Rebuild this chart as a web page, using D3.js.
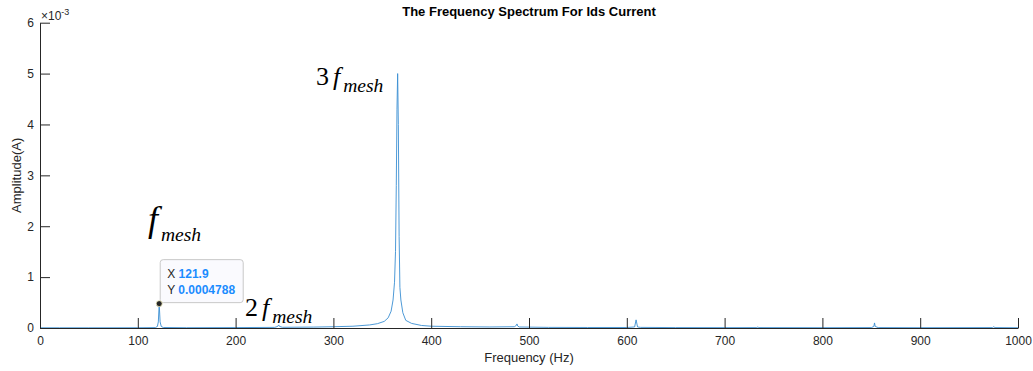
<!DOCTYPE html>
<html>
<head>
<meta charset="utf-8">
<script src="https://cdn.jsdelivr.net/npm/d3@7"></script>
<style>
  body { margin: 0; background: #fff; }
  svg { display: block; font-family: "Liberation Sans", Arial, sans-serif; }
  .axis path, .axis line { stroke: #262626; }
  .axis text { fill: #262626; font-size: 12px; }
  .anno { font-family: "Liberation Serif", "Times New Roman", serif; fill: #000; }
</style>
</head>
<body>
<svg id="chart" width="1033" height="371"></svg>
<script>
// spectrum samples (Hz) and amplitudes (A)
const freqs = [0, 20, 50, 100, 118, 120, 121, 121.9, 122.8, 124, 126, 150, 200, 240, 243, 244, 245, 248,
  280, 300, 320, 337, 345, 352, 356, 359, 361, 362.5, 363.5, 364.3, 365, 365.7, 366.4, 367.2, 368, 369,
  371, 374, 380, 390, 400, 430, 460, 485, 487, 487.7, 488.4, 490, 520, 560, 600, 608, 609.5, 611, 614,
  650, 700, 733, 734, 735, 800, 850, 852.6, 853.3, 854, 857, 900, 974, 975.2, 976.4, 1000];
const amps = [0.004, 0.004, 0.004, 0.005, 0.008, 0.03, 0.12, 0.4788, 0.12, 0.03, 0.01, 0.006, 0.008, 0.012, 0.03, 0.06, 0.03, 0.014,
  0.018, 0.025, 0.035, 0.06, 0.085, 0.13, 0.2, 0.33, 0.55, 0.9, 1.5, 2.8, 4.3, 5.0, 4.0, 1.8, 0.8, 0.55,
  0.3, 0.15, 0.09, 0.05, 0.035, 0.025, 0.02, 0.025, 0.05, 0.08, 0.04, 0.02, 0.012, 0.01, 0.01, 0.02, 0.16, 0.02, 0.012,
  0.008, 0.007, 0.008, 0.02, 0.008, 0.006, 0.008, 0.03, 0.1, 0.03, 0.008, 0.006, 0.008, 0.025, 0.008, 0.005].map(v => v * 1e-3);

const xTicks = [0, 100, 200, 300, 400, 500, 600, 700, 800, 900, 1000];
const yTicks = [0, 0.001, 0.002, 0.003, 0.004, 0.005, 0.006];

const tipPoint = { x: 121.9, y: 0.0004788 };

const svg = d3.select("#chart");
const mLeft = 40, mRight = 1018, mTop = 22.7, mBottom = 328;

const x = d3.scaleLinear().domain([0, 1000]).range([mLeft, mRight]);
const y = d3.scaleLinear().domain([0, 0.006]).range([mBottom, mTop]);

// title
svg.append("text")
    .attr("x", (mLeft + mRight) / 2).attr("y", 16)
    .attr("text-anchor", "middle")
    .style("font-weight", "bold").style("font-size", "13px").attr("fill", "#000")
    .text("The Frequency Spectrum For Ids Current");

// spectrum line
const data = freqs.map((f, i) => ({ f: f, a: amps[i] }));
svg.append("path")
    .datum(data)
    .attr("fill", "none")
    .attr("stroke", "#3a8fd2")
    .attr("stroke-width", 0.9)
    .attr("d", d3.line().x(d => x(d.f)).y(d => y(d.a)));

// axes, ticks pointing inwards like matlab
svg.append("g").attr("class", "axis")
    .attr("transform", `translate(0,${mBottom})`)
    .call(d3.axisBottom(x).tickValues(xTicks).tickSizeInner(-10).tickSizeOuter(0).tickPadding(8)
        .tickFormat(d3.format("d")));

svg.append("g").attr("class", "axis")
    .attr("transform", `translate(${mLeft},0)`)
    .call(d3.axisLeft(y).tickValues(yTicks).tickSizeInner(-10).tickSizeOuter(0).tickPadding(6)
        .tickFormat(d => Math.round(d * 1000)));

// exponent label
const expo = svg.append("text").attr("x", mLeft + 1).attr("y", 20).attr("fill", "#262626").style("font-size", "12px");
expo.append("tspan").text("\u00d710");
expo.append("tspan").attr("dy", -5).style("font-size", "9px").text("-3");

// axis labels
svg.append("text")
    .attr("x", (mLeft + mRight) / 2).attr("y", 362)
    .attr("text-anchor", "middle").attr("fill", "#262626").style("font-size", "13px")
    .text("Frequency (Hz)");
svg.append("text")
    .attr("transform", `translate(21,${(mTop + mBottom) / 2}) rotate(-90)`)
    .attr("text-anchor", "middle").attr("fill", "#262626").style("font-size", "13px")
    .text("Amplitude(A)");

// data tip
const px = x(tipPoint.x), py = y(tipPoint.y);
const tip = svg.append("g").attr("transform", `translate(${px + 1},${py - 44})`);
tip.append("rect")
    .attr("width", 83).attr("height", 43).attr("rx", 3)
    .attr("fill", "#fafafe").attr("stroke", "#c8c8c8");
const rowX = tip.append("text").attr("x", 7).attr("y", 18).style("font-size", "12px");
rowX.append("tspan").attr("fill", "#262626").text("X ");
rowX.append("tspan").attr("fill", "#1a8cff").style("font-weight", "bold").text(tipPoint.x);
const rowY = tip.append("text").attr("x", 7).attr("y", 34).style("font-size", "12px");
rowY.append("tspan").attr("fill", "#262626").text("Y ");
rowY.append("tspan").attr("fill", "#1a8cff").style("font-weight", "bold").text(tipPoint.y);
svg.append("circle").attr("cx", px).attr("cy", py).attr("r", 3)
    .attr("fill", "#262626").attr("stroke", "#f4f0c0").attr("stroke-width", 0.8);

// harmonic annotations
function harmonic(tx, ty, num, size, subDy) {
    const t = svg.append("text").attr("class", "anno").attr("x", tx).attr("y", ty).style("font-size", size + "px");
    if (num) t.append("tspan").text(num);
    t.append("tspan").attr("dx", num ? 4 : 0).style("font-style", "italic").text("f");
    t.append("tspan").attr("dy", subDy).attr("dx", 3).style("font-style", "italic")
        .style("font-size", "19.5px").text("mesh");
}
harmonic(148, 231, "", 36, 10);
harmonic(316, 85, "3", 26, 6.5);
harmonic(245, 316, "2", 26, 6.5);
</script>
</body>
</html>
